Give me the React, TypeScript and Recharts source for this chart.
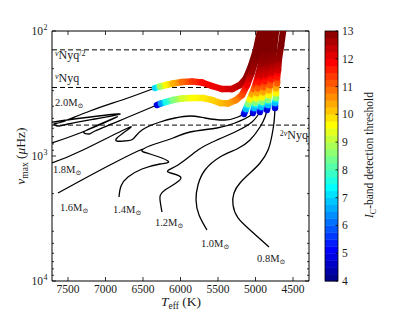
import React from 'react';
import { ScatterChart, Scatter, XAxis, YAxis } from 'recharts';

const W = 415;
const H = 313;
const BOX = { left: 52, right: 309, top: 31, bottom: 281 };
const FONT = '"Liberation Serif", "DejaVu Serif", "Times New Roman", serif';
const INK = '#1a1a1a';

const X_DOMAIN = [4287, 7713];
const Y_DOMAIN = [100, 10000];
const X_TICKS = [7500, 7000, 6500, 6000, 5500, 5000, 4500];
const Y_MAJOR = [100, 1000, 10000];
const Y_TICKS = [100, 200, 300, 400, 500, 600, 700, 800, 900, 1000, 2000, 3000, 4000, 5000, 6000, 7000, 8000, 9000, 10000];
const CB_TICKS = [4, 5, 6, 7, 8, 9, 10, 11, 12, 13];
const CB_RANGE = [4, 13];

// Nyquist reference levels (muHz)
const NYQ_LEVELS = [141.5, 283, 566];

// ---- Black (undetectable) parts of tracks: Teff (K), numax (muHz)
const A_BLACK_TEFF = [7713, 7607, 6833, 7140, 7500, 7633, 7687, 7580, 7207, 6740, 6340];
const A_BLACK_NUMAX = [544.5, 524.8, 461.3, 505.8, 554.6, 575.4, 554.6, 534.6, 436.5, 349.9, 285.8];
const B_BLACK_TEFF = [7713, 7273, 6847, 7073, 7287, 7220, 7140, 6727, 6313];
const B_BLACK_NUMAX = [787.0, 631.0, 487.5, 554.6, 642.7, 666.8, 631.0, 496.6, 390.8];
const C_BLACK_TEFF = [7713, 7300, 6673, 6847, 6753, 6633, 6513, 6273, 6073, 5873, 5673, 5407, 5233, 5153];
const C_BLACK_NUMAX = [1137.6, 895.4, 586.1, 717.8, 758.6, 731.1, 619.4, 534.6, 496.6, 478.6, 496.6, 515.2, 487.5, 461.3];
const D_BLACK_TEFF = [7633, 7340, 6940, 6567, 6513];
const D_BLACK_NUMAX = [1977.0, 1584.9, 1180.3, 912.0, 895.4];
const E_BLACK_TEFF = [6820, 6793, 6700, 6513, 6273, 6167, 6407, 6513, 6340, 6100, 5873, 5513, 5273, 5100, 5033];
const E_BLACK_NUMAX = [2128.1, 1737.8, 1472.3, 1270.6, 1158.8, 1096.5, 963.9, 895.4, 801.7, 717.8, 642.7, 597.0, 544.5, 487.5, 452.9];
const F_BLACK_TEFF = [6247, 6273, 6207, 5993, 6167, 6033, 5767, 5513, 5247, 5047, 4940];
const F_BLACK_NUMAX = [2805.4, 2249.0, 1870.6, 1499.7, 1342.8, 1180.3, 895.4, 744.7, 631.0, 534.6, 444.6];
const G_BLACK_TEFF = [5647, 5753, 5793, 5767, 5673, 5473, 5247, 5073, 4940, 4873, 4847];
const G_BLACK_NUMAX = [3908.4, 2964.8, 2249.0, 1706.0, 1294.2, 1018.6, 879.0, 744.7, 586.1, 487.5, 428.5];
const H_BLACK_TEFF = [4820, 5073, 5233, 5300, 5287, 5207, 5073, 4940, 4833, 4780, 4753, 4740];
const H_BLACK_NUMAX = [5345.6, 3908.4, 3133.0, 2466.0, 1977.0, 1644.4, 1367.7, 1137.6, 895.4, 679.2, 534.6, 413.0];

// ---- Coloured (detectable) parts: Teff, numax, Ic-band threshold
const A_COL_TEFF = [6340, 6273, 6193, 6100, 5980, 5847, 5713, 5580, 5447, 5313, 5207, 5127, 5060, 4993, 4940, 4913];
const A_COL_NUMAX = [285.8, 278.0, 270.4, 263.0, 255.9, 253.5, 258.2, 275.4, 291.1, 291.1, 270.4, 237.7, 190.5, 141.9, 100, 84.7];
const A_COL_THR = [7.0, 8.8, 9.7, 10.3, 10.9, 11.4, 11.8, 12.0, 12.1, 12.3, 12.5, 12.8, 13, 13, 13, 13];
const B_COL_TEFF = [6313, 6260, 6193, 6100, 5980, 5847, 5700, 5580, 5473, 5367, 5260, 5180, 5113, 5047, 4980, 4913, 4887];
const B_COL_NUMAX = [390.8, 380.2, 369.8, 356.5, 346.7, 343.6, 343.6, 356.5, 376.7, 380.2, 356.5, 325.1, 270.4, 212.8, 155.6, 107.6, 84.7];
const B_COL_THR = [4.8, 6.5, 7.6, 8.5, 9.2, 9.6, 9.8, 10.0, 10.2, 10.4, 10.7, 11.2, 12.0, 12.7, 13, 13, 13];
const RGB_THR = [4.8, 6.8, 8.5, 9.7, 10.4, 11.1, 11.7, 12.3, 12.8, 13, 13, 13];
const C_COL_TEFF = [5153, 5127, 5100, 5073, 5047, 5020, 4993, 4967, 4927, 4900, 4873, 4847];
const C_COL_NUMAX = [461.3, 420.7, 383.7, 349.9, 319.2, 291.1, 260.6, 229.1, 183.7, 141.9, 100, 81.7];
const E_COL_TEFF = [5033, 5020, 5007, 4993, 4980, 4967, 4953, 4927, 4900, 4873, 4833, 4807];
const E_COL_NUMAX = [452.9, 413.0, 376.7, 343.6, 313.3, 285.8, 255.9, 224.9, 180.3, 141.9, 100, 81.7];
const F_COL_TEFF = [4940, 4927, 4913, 4913, 4900, 4887, 4873, 4860, 4833, 4820, 4780, 4767];
const F_COL_NUMAX = [444.6, 405.5, 369.8, 337.3, 307.6, 280.5, 251.2, 220.8, 177.0, 141.9, 100, 81.7];
const G_COL_TEFF = [4847, 4833, 4833, 4820, 4820, 4807, 4793, 4780, 4767, 4753, 4727, 4713];
const G_COL_NUMAX = [428.5, 390.8, 356.5, 325.1, 296.5, 270.4, 242.1, 212.8, 170.6, 136.8, 100, 81.7];
const H_COL_TEFF = [4740, 4740, 4727, 4727, 4727, 4713, 4713, 4700, 4687, 4660, 4633, 4620];
const H_COL_NUMAX = [413.0, 376.7, 343.6, 313.3, 285.8, 260.6, 233.3, 205.1, 164.4, 131.8, 100, 81.7];

// ---- Labels
const MASS_LABELS = ['2.0', '1.8', '1.6', '1.4', '1.2', '1.0', '0.8'];
const MASS_LABEL_TEFF = [7673, 7700, 7607, 6900, 6340, 5727, 4980];
const MASS_LABEL_NUMAX = [398.1, 1367.7, 2754.2, 2857.6, 3630.8, 5345.6, 7046.9];
const NYQ_LABEL_PRE = ['', '', '2'];
const NYQ_LABEL_POST = ['/2', '', ''];
const NYQ_LABEL_TEFF = [7673, 7673, 4300];
const NYQ_LABEL_NUMAX = [167.5, 255.9, 731.1];
const NYQ_LABEL_ANCHOR = ['start', 'start', 'end'];

const pts = (t: number[], n: number[], v?: number[]) =>
  t.map((tt, i) => ({ t: tt, n: n[i], v: v ? v[i] : 0 }));

const BLACK = [
  pts(A_BLACK_TEFF, A_BLACK_NUMAX),
  pts(B_BLACK_TEFF, B_BLACK_NUMAX),
  pts(C_BLACK_TEFF, C_BLACK_NUMAX),
  pts(D_BLACK_TEFF, D_BLACK_NUMAX),
  pts(E_BLACK_TEFF, E_BLACK_NUMAX),
  pts(F_BLACK_TEFF, F_BLACK_NUMAX),
  pts(G_BLACK_TEFF, G_BLACK_NUMAX),
  pts(H_BLACK_TEFF, H_BLACK_NUMAX),
];

const COLOURED = [
  { id: 'a', data: pts(A_COL_TEFF, A_COL_NUMAX, A_COL_THR) },
  { id: 'b', data: pts(B_COL_TEFF, B_COL_NUMAX, B_COL_THR) },
  { id: 'c', data: pts(C_COL_TEFF, C_COL_NUMAX, RGB_THR) },
  { id: 'e', data: pts(E_COL_TEFF, E_COL_NUMAX, RGB_THR) },
  { id: 'f', data: pts(F_COL_TEFF, F_COL_NUMAX, RGB_THR) },
  { id: 'g', data: pts(G_COL_TEFF, G_COL_NUMAX, RGB_THR) },
  { id: 'h', data: pts(H_COL_TEFF, H_COL_NUMAX, RGB_THR) },
];

const clamp = (x: number) => Math.max(0, Math.min(1, x));
function jet(v: number) {
  const t = clamp((v - CB_RANGE[0]) / (CB_RANGE[1] - CB_RANGE[0]));
  const r = clamp(1.5 - Math.abs(4 * t - 3));
  const g = clamp(1.5 - Math.abs(4 * t - 2));
  const b = clamp(1.5 - Math.abs(4 * t - 1));
  const h = (x: number) => Math.round(x * 255).toString(16).padStart(2, '0');
  return `#${h(r)}${h(g)}${h(b)}`;
}

const NoShape = () => <g />;

function GradLine(props: any) {
  const { points, values, gid } = props;
  if (!points) return null;
  const segs: any[] = [];
  for (let i = 0; i < points.length - 1; i++) {
    const p = points[i];
    const q = points[i + 1];
    const id = `grad-${gid}-${i}`;
    const v0 = values[i];
    const v1 = values[i + 1];
    segs.push(
      <g key={i}>
        <defs>
          <linearGradient id={id} gradientUnits="userSpaceOnUse" x1={p.x} y1={p.y} x2={q.x} y2={q.y}>
            {[0, 0.25, 0.5, 0.75, 1].map((s) => (
              <stop key={s} offset={s} stopColor={jet(v0 + (v1 - v0) * s)} />
            ))}
          </linearGradient>
        </defs>
        <line x1={p.x} y1={p.y} x2={q.x} y2={q.y} stroke={`url(#${id})`} strokeWidth={6.5} strokeLinecap="round" />
      </g>
    );
  }
  return <g>{segs}</g>;
}

const XTickBottom = (p: any) => (
  <g>
    <line x1={p.x} x2={p.x} y1={BOX.bottom} y2={BOX.bottom - 4} stroke="#000" strokeWidth={0.8} />
    <text x={p.x} y={293} textAnchor="middle" fontSize={11.5} fontFamily={FONT} fill={INK}>
      {p.payload.value}
    </text>
  </g>
);
const XTickTop = (p: any) => (
  <line x1={p.x} x2={p.x} y1={BOX.top} y2={BOX.top + 4} stroke="#000" strokeWidth={0.8} />
);
const YTickLeft = (p: any) => {
  const v = p.payload.value;
  const major = Y_MAJOR.includes(v);
  return (
    <g>
      <line x1={BOX.left} x2={BOX.left + (major ? 4 : 2)} y1={p.y} y2={p.y} stroke="#000" strokeWidth={0.8} />
      {major && (
        <text x={43} y={p.y + 4} textAnchor="end" fontSize={11.5} fontFamily={FONT} fill={INK}>
          10
        </text>
      )}
      {major && (
        <text x={43.5} y={p.y - 1} textAnchor="start" fontSize={8} fontFamily={FONT} fill={INK}>
          {Math.round(Math.log10(v))}
        </text>
      )}
    </g>
  );
};
const YTickRight = (p: any) => {
  const major = Y_MAJOR.includes(p.payload.value);
  return <line x1={BOX.right} x2={BOX.right - (major ? 4 : 2)} y1={p.y} y2={p.y} stroke="#000" strokeWidth={0.8} />;
};

const MassLabel = (p: any) => (
  <text x={p.cx} y={p.cy} fontSize={10.5} fontFamily={FONT} fill={INK}>
    {p.payload.label}M
    <tspan fontSize={7} dy={2}>⊙</tspan>
  </text>
);

const NyqLabel = (p: any) => {
  const pre = p.payload.pre;
  const post = p.payload.post;
  return (
    <text x={p.cx} y={p.cy} fontSize={12} fontFamily={FONT} fill={INK} textAnchor={p.payload.anchor}>
      {pre ? (
        <tspan fontSize={8} dy={-3}>
          {pre}
        </tspan>
      ) : null}
      <tspan fontSize={8} fontStyle="italic" dy={pre ? 0 : -3}>
        ν
      </tspan>
      <tspan dy={3}>Nyq</tspan>
      {post ? (
        <tspan fontSize={8} dy={-3}>
          {post}
        </tspan>
      ) : null}
    </text>
  );
};

const massLabelData = MASS_LABELS.map((l, i) => ({ t: MASS_LABEL_TEFF[i], n: MASS_LABEL_NUMAX[i], label: l }));
const nyqLabelData = NYQ_LABEL_TEFF.map((t, i) => ({
  t,
  n: NYQ_LABEL_NUMAX[i],
  pre: NYQ_LABEL_PRE[i],
  post: NYQ_LABEL_POST[i],
  anchor: NYQ_LABEL_ANCHOR[i],
}));

function ColorBar() {
  const x0 = 325;
  const w = 13;
  const y0 = BOX.top;
  const h = BOX.bottom - BOX.top;
  const n = 36;
  const span = CB_RANGE[1] - CB_RANGE[0];
  const yOf = (v: number) => y0 + h - ((v - CB_RANGE[0]) / span) * h;
  const bands = [];
  for (let i = 0; i < n; i++) {
    const va = CB_RANGE[0] + (span * i) / n;
    const vb = CB_RANGE[0] + (span * (i + 1)) / n;
    bands.push(
      <rect key={i} x={x0} y={yOf(vb)} width={w} height={yOf(va) - yOf(vb) + 0.4} fill={jet((va + vb) / 2)} />
    );
  }
  return (
    <g>
      {bands}
      <rect x={x0} y={y0} width={w} height={h} fill="none" stroke="#000" strokeWidth={0.8} />
      {CB_TICKS.map((t) => (
        <g key={t}>
          <line x1={x0 + w} x2={x0 + w - 2.5} y1={yOf(t)} y2={yOf(t)} stroke="#000" strokeWidth={0.8} />
          <text x={342} y={yOf(t) + 4} fontSize={11.5} fontFamily={FONT} fill={INK}>
            {t}
          </text>
        </g>
      ))}
      <text
        transform="rotate(-90 373 155)"
        x={373}
        y={155}
        textAnchor="middle"
        fontSize={11.5}
        fontFamily={FONT}
        fill={INK}
      >
        <tspan fontStyle="italic">I</tspan>
        <tspan fontSize={8} dy={2.5}>C</tspan>
        <tspan dy={-2.5}>-band detection threshold</tspan>
      </text>
    </g>
  );
}

export default function App() {
  return (
    <div style={{ position: 'absolute', left: 0, top: 0, width: W, height: H, background: '#fff' }}>
      <ScatterChart width={W} height={H} margin={{ top: 11, right: 86, bottom: 12, left: 32 }}>
        <XAxis
          xAxisId="b"
          type="number"
          dataKey="t"
          domain={X_DOMAIN}
          reversed
          allowDataOverflow
          ticks={X_TICKS}
          interval={0}
          tick={XTickBottom}
          tickLine={false}
          axisLine={{ stroke: '#000', strokeWidth: 1 }}
          height={20}
          orientation="bottom"
        />
        <XAxis
          xAxisId="t"
          type="number"
          dataKey="t"
          domain={X_DOMAIN}
          reversed
          allowDataOverflow
          ticks={X_TICKS}
          interval={0}
          tick={XTickTop}
          tickLine={false}
          axisLine={{ stroke: '#000', strokeWidth: 1 }}
          height={20}
          orientation="top"
        />
        <YAxis
          yAxisId="l"
          type="number"
          dataKey="n"
          scale="log"
          domain={Y_DOMAIN}
          reversed
          allowDataOverflow
          ticks={Y_TICKS}
          interval={0}
          tick={YTickLeft}
          tickLine={false}
          axisLine={{ stroke: '#000', strokeWidth: 1 }}
          width={20}
          orientation="left"
        />
        <YAxis
          yAxisId="r"
          type="number"
          dataKey="n"
          scale="log"
          domain={Y_DOMAIN}
          reversed
          allowDataOverflow
          ticks={Y_TICKS}
          interval={0}
          tick={YTickRight}
          tickLine={false}
          axisLine={{ stroke: '#000', strokeWidth: 1 }}
          width={20}
          orientation="right"
        />
        {NYQ_LEVELS.map((lvl, i) => (
          <Scatter
            key={'nyq' + i}
            xAxisId="b"
            yAxisId="l"
            data={[
              { t: X_DOMAIN[1], n: lvl },
              { t: X_DOMAIN[0], n: lvl },
            ]}
            line={{ stroke: '#000', strokeWidth: 1, strokeDasharray: '5 3' }}
            shape={NoShape}
            isAnimationActive={false}
          />
        ))}
        {BLACK.map((d, i) => (
          <Scatter
            key={'blk' + i}
            xAxisId="b"
            yAxisId="l"
            data={d}
            line={{ stroke: '#000', strokeWidth: 1.3 }}
            lineJointType="natural"
            shape={NoShape}
            isAnimationActive={false}
          />
        ))}
        {COLOURED.map((c) => (
          <Scatter
            key={'col' + c.id}
            xAxisId="b"
            yAxisId="l"
            data={c.data}
            line={<GradLine values={c.data.map((d) => d.v)} gid={c.id} />}
            shape={NoShape}
            isAnimationActive={false}
          />
        ))}
        <Scatter xAxisId="b" yAxisId="l" data={massLabelData} shape={MassLabel} isAnimationActive={false} />
        <Scatter xAxisId="b" yAxisId="l" data={nyqLabelData} shape={NyqLabel} isAnimationActive={false} />
      </ScatterChart>
      <svg width={W} height={H} style={{ position: 'absolute', left: 0, top: 0, pointerEvents: 'none' }}>
        <ColorBar />
        <text x={181} y={306} textAnchor="middle" fontSize={13.5} fontFamily={FONT} fill={INK}>
          <tspan fontStyle="italic">T</tspan>
          <tspan fontSize={9.5} dy={3}>eff</tspan>
          <tspan dy={-3}> (K)</tspan>
        </text>
        <text
          transform="rotate(-90 25 156)"
          x={25}
          y={156}
          textAnchor="middle"
          fontSize={13.5}
          fontFamily={FONT}
          fill={INK}
        >
          <tspan fontStyle="italic">ν</tspan>
          <tspan fontSize={9.5} dy={3}>max</tspan>
          <tspan dy={-3}> (</tspan>
          <tspan fontStyle="italic">μ</tspan>
          <tspan>Hz)</tspan>
        </text>
      </svg>
    </div>
  );
}
